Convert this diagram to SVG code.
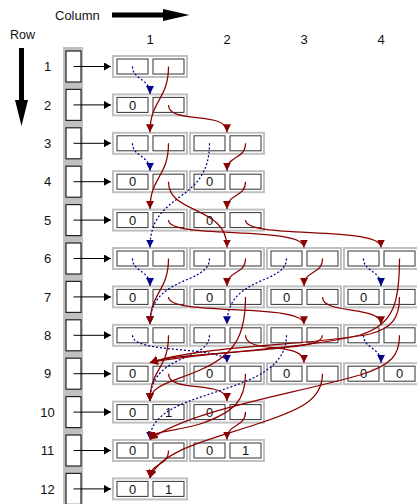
<svg xmlns="http://www.w3.org/2000/svg" width="417" height="504" viewBox="0 0 417 504">
  <style>
    text { font-family: "Liberation Sans", Arial, sans-serif; fill: #111; }
    .lbl { font-size: 13px; text-anchor: middle; }
    .val { font-size: 13px; text-anchor: middle; }
    .bg { fill: #c0c0c0; }
    .in { fill: #fff; }
    .cell { fill: #fff; stroke: #333; stroke-width: 1; }
    .rbox { fill: #fff; stroke: #222; stroke-width: 1.2; }
    .ptr { stroke: #000; stroke-width: 1; fill: none; marker-end: url(#ak); }
    .hi { stroke: #8b0000; stroke-width: 1.25; fill: none; marker-end: url(#ar); }
    .lo { stroke: #00008b; stroke-width: 1.25; fill: none; stroke-dasharray: 2 2; marker-end: url(#ab); }
  </style>
  <defs>
    <marker id="ar" viewBox="0 0 8 8" refX="8" refY="4" markerWidth="8" markerHeight="8" markerUnits="userSpaceOnUse" orient="auto">
      <path d="M0,0 L8,4 L0,8 z" fill="#8b0000"/>
    </marker>
    <marker id="ab" viewBox="0 0 8 8" refX="8" refY="4" markerWidth="8" markerHeight="8" markerUnits="userSpaceOnUse" orient="auto">
      <path d="M0,0 L8,4 L0,8 z" fill="#00008b"/>
    </marker>
    <marker id="ak" viewBox="0 0 7 8" refX="7" refY="4" markerWidth="7" markerHeight="8" markerUnits="userSpaceOnUse" orient="auto">
      <path d="M0,0 L7,4 L0,8 z" fill="#000"/>
    </marker>
    <!-- one cell pair: grey frame, white lining, two cells -->
    <g id="pair">
      <rect class="bg" x="0" y="-11.5" width="76" height="23"/>
      <rect class="in" x="2" y="-9.5" width="72" height="19"/>
      <rect class="cell" x="5" y="-7.5" width="31" height="15"/>
      <rect class="cell" x="41" y="-7.5" width="31" height="15"/>
    </g>
    <!-- row header: box plus pointer arrow -->
    <g id="head">
      <rect class="rbox" x="66" y="-15.5" width="15" height="31"/>
      <path class="ptr" d="M73.5,0 H111"/>
    </g>
  </defs>

  <!-- axis captions -->
  <g id="axes">
    <text x="55" y="20" style="font-size:13px">Column</text>
    <rect x="112" y="12.5" width="53" height="5" fill="#000"/>
    <polygon points="163,9 189.5,15 163,21" fill="#000"/>
    <text x="10" y="39" style="font-size:12.5px">Row</text>
    <rect x="19" y="48" width="5" height="54" fill="#000"/>
    <polygon points="15,100 28,100 21.5,126" fill="#000"/>
    <text class="lbl" x="150" y="44">1</text>
    <text class="lbl" x="227" y="44">2</text>
    <text class="lbl" x="304" y="44">3</text>
    <text class="lbl" x="381" y="44">4</text>
  </g>

  <!-- row index strip -->
  <rect class="bg" x="63" y="47" width="20" height="457"/>

  <g id="rows">
    <g id="row1"><text class="lbl" x="47.5" y="71.2">1</text><use href="#head" y="66.5"/></g>
    <g id="row2"><text class="lbl" x="47.5" y="109.6">2</text><use href="#head" y="104.9"/></g>
    <g id="row3"><text class="lbl" x="47.5" y="148">3</text><use href="#head" y="143.3"/></g>
    <g id="row4"><text class="lbl" x="47.5" y="186.4">4</text><use href="#head" y="181.7"/></g>
    <g id="row5"><text class="lbl" x="47.5" y="224.8">5</text><use href="#head" y="220.1"/></g>
    <g id="row6"><text class="lbl" x="47.5" y="263.2">6</text><use href="#head" y="258.5"/></g>
    <g id="row7"><text class="lbl" x="47.5" y="301.6">7</text><use href="#head" y="296.9"/></g>
    <g id="row8"><text class="lbl" x="47.5" y="340">8</text><use href="#head" y="335.3"/></g>
    <g id="row9"><text class="lbl" x="47.5" y="378.4">9</text><use href="#head" y="373.7"/></g>
    <g id="row10"><text class="lbl" x="47.5" y="416.8">10</text><use href="#head" y="412.1"/></g>
    <g id="row11"><text class="lbl" x="47.5" y="455.2">11</text><use href="#head" y="450.5"/></g>
    <g id="row12"><text class="lbl" x="47.5" y="493.6">12</text><use href="#head" y="488.9"/></g>
  </g>

  <!-- cell pairs, translated to (column x, row centre y) -->
  <g id="nodes">
    <g id="n1_1" transform="translate(112,66.5)"><use href="#pair"/></g>

    <g id="n2_1" transform="translate(112,104.9)"><use href="#pair"/><text class="val" x="20.5" y="4.7">0</text></g>

    <g id="n3_1" transform="translate(112,143.3)"><use href="#pair"/></g>
    <g id="n3_2" transform="translate(189,143.3)"><use href="#pair"/></g>

    <g id="n4_1" transform="translate(112,181.7)"><use href="#pair"/><text class="val" x="20.5" y="4.7">0</text></g>
    <g id="n4_2" transform="translate(189,181.7)"><use href="#pair"/><text class="val" x="20.5" y="4.7">0</text></g>

    <g id="n5_1" transform="translate(112,220.1)"><use href="#pair"/><text class="val" x="20.5" y="4.7">0</text></g>
    <g id="n5_2" transform="translate(189,220.1)"><use href="#pair"/><text class="val" x="20.5" y="4.7">0</text></g>

    <g id="n6_1" transform="translate(112,258.5)"><use href="#pair"/></g>
    <g id="n6_2" transform="translate(189,258.5)"><use href="#pair"/></g>
    <g id="n6_3" transform="translate(266,258.5)"><use href="#pair"/></g>
    <g id="n6_4" transform="translate(343,258.5)"><use href="#pair"/></g>

    <g id="n7_1" transform="translate(112,296.9)"><use href="#pair"/><text class="val" x="20.5" y="4.7">0</text></g>
    <g id="n7_2" transform="translate(189,296.9)"><use href="#pair"/><text class="val" x="20.5" y="4.7">0</text></g>
    <g id="n7_3" transform="translate(266,296.9)"><use href="#pair"/><text class="val" x="20.5" y="4.7">0</text></g>
    <g id="n7_4" transform="translate(343,296.9)"><use href="#pair"/><text class="val" x="20.5" y="4.7">0</text></g>

    <g id="n8_1" transform="translate(112,335.3)"><use href="#pair"/></g>
    <g id="n8_2" transform="translate(189,335.3)"><use href="#pair"/></g>
    <g id="n8_3" transform="translate(266,335.3)"><use href="#pair"/></g>
    <g id="n8_4" transform="translate(343,335.3)"><use href="#pair"/></g>

    <g id="n9_1" transform="translate(112,373.7)"><use href="#pair"/><text class="val" x="20.5" y="4.7">0</text></g>
    <g id="n9_2" transform="translate(189,373.7)"><use href="#pair"/><text class="val" x="20.5" y="4.7">0</text></g>
    <g id="n9_3" transform="translate(266,373.7)"><use href="#pair"/><text class="val" x="20.5" y="4.7">0</text></g>
    <g id="n9_4" transform="translate(343,373.7)"><use href="#pair"/><text class="val" x="20.5" y="4.7">0</text><text class="val" x="56.5" y="4.7">0</text></g>

    <g id="n10_1" transform="translate(112,412.1)"><use href="#pair"/><text class="val" x="20.5" y="4.7">0</text><text class="val" x="56.5" y="4.7">1</text></g>
    <g id="n10_2" transform="translate(189,412.1)"><use href="#pair"/><text class="val" x="20.5" y="4.7">0</text></g>

    <g id="n11_1" transform="translate(112,450.5)"><use href="#pair"/><text class="val" x="20.5" y="4.7">0</text></g>
    <g id="n11_2" transform="translate(189,450.5)"><use href="#pair"/><text class="val" x="20.5" y="4.7">0</text><text class="val" x="56.5" y="4.7">1</text></g>

    <g id="n12_1" transform="translate(112,488.9)"><use href="#pair"/><text class="val" x="20.5" y="4.7">0</text><text class="val" x="56.5" y="4.7">1</text></g>
  </g>

  <!-- links: dotted blue from the first cell, solid red from the second -->
  <g id="edges">
    <path class="lo" d="M132.5,66.5 C132.5,80 150,78 150,93.9"/>
    <path class="lo" d="M132.5,143.3 C132.5,157 150,155 150,170.7"/>
    <path class="lo" d="M209.5,143.3 C209.5,205 150,190 150,247.5"/>
    <path class="lo" d="M132.5,258.5 C132.5,272 150,270 150,285.9"/>
    <path class="lo" d="M209.5,258.5 C209.5,285 150,275 150,324.3"/>
    <path class="lo" d="M286.5,258.5 C286.5,285 227,275 227,324.3"/>
    <path class="lo" d="M363.5,258.5 C363.5,272 381,270 381,285.9"/>
    <path class="lo" d="M132.5,335.3 C132.5,355 227,345 227,362.7"/>
    <path class="lo" d="M209.5,335.3 C209.5,362 150,352 150,401.1"/>
    <path class="lo" d="M286.5,335.3 C286.5,400 150,385 150,439.5"/>
    <path class="lo" d="M363.5,335.3 C363.5,349 381,347 381,362.7"/>

    <path class="hi" d="M168.5,66.5 C168.5,100 150,100 150,132.3"/>
    <path class="hi" d="M168.5,104.9 C168.5,125 227,110 227,132.3"/>
    <path class="hi" d="M168.5,143.3 C168.5,177 150,177 150,209.1"/>
    <path class="hi" d="M245.5,143.3 C245.5,160 227,155 227,170.7"/>
    <path class="hi" d="M168.5,181.7 C168.5,215 227,205 227,247.5"/>
    <path class="hi" d="M245.5,181.7 C245.5,198 227,193 227,209.1"/>
    <path class="hi" d="M168.5,220.1 C168.5,240 304,225 304,247.5"/>
    <path class="hi" d="M245.5,220.1 C245.5,240 381,225 381,247.5"/>
    <path class="hi" d="M168.5,258.5 C168.5,292 150,292 150,324.3"/>
    <path class="hi" d="M245.5,258.5 C245.5,275 227,270 227,285.9"/>
    <path class="hi" d="M322.5,258.5 C322.5,275 304,270 304,285.9"/>
    <path class="hi" d="M399.5,258.5 C399.5,300 395,325 360,335 C300,350 200,352 150,362.7"/>
    <path class="hi" d="M168.5,296.9 C168.5,317 304,302 304,324.3"/>
    <path class="hi" d="M245.5,296.9 C245.5,335 235,355 200,370 C170,383 150,385 150,401.1"/>
    <path class="hi" d="M322.5,296.9 C322.5,315 381,305 381,324.3"/>
    <path class="hi" d="M399.5,296.9 C399.5,318 392,328 370,334 C320,345 200,345 150,362.7"/>
    <path class="hi" d="M168.5,335.3 C168.5,370 150,368 150,401.1"/>
    <path class="hi" d="M245.5,335.3 C245.5,355 304,340 304,362.7"/>
    <path class="hi" d="M322.5,335.3 C322.5,345 300,346 260,350 C220,354 170,355 150,362.7"/>
    <path class="hi" d="M399.5,335.3 C399.5,355 392,365 360,375 C290,395 190,410 150,439.5"/>
    <path class="hi" d="M168.5,373.7 C168.5,394 227,379 227,401.1"/>
    <path class="hi" d="M245.5,373.7 C245.5,400 235,412 200,424 C175,432 152,430 150,439.5"/>
    <path class="hi" d="M322.5,373.7 C322.5,400 300,410 257,424 C210,440 160,450 150,477.9"/>
    <path class="hi" d="M245.5,412.1 C245.5,428 227,423 227,439.5"/>
    <path class="hi" d="M168.5,450.5 C168.5,467 150,462 150,477.9"/>
  </g>
</svg>
